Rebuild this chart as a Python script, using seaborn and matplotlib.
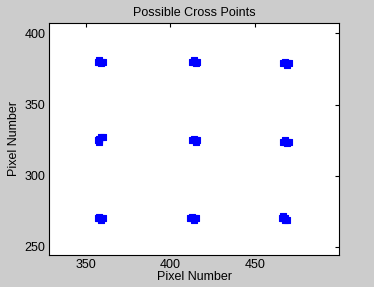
import matplotlib
matplotlib.use("Agg")
import matplotlib.pyplot as plt
import seaborn as sns
import pandas as pd

# Detected cross point coordinates (pixel numbers)
x_vals = [357, 358, 359, 360, 358, 359,
          413, 414, 415, 416, 414, 415,
          467, 468, 469, 470, 468, 469,
          357, 358, 358, 359, 360, 358,
          413, 414, 415, 416, 414, 415,
          467, 468, 469, 470, 468, 469,
          357, 358, 359, 360, 358, 359,
          412, 413, 414, 415, 413, 414,
          466, 467, 468, 469, 467, 468]
y_vals = [380, 380, 380, 380, 381, 379,
          380, 380, 380, 380, 381, 379,
          379, 379, 379, 379, 380, 378,
          325, 325, 324, 327, 327, 326,
          325, 325, 325, 325, 326, 324,
          324, 324, 324, 324, 325, 323,
          270, 270, 270, 270, 271, 269,
          270, 270, 270, 270, 271, 269,
          270, 270, 270, 269, 272, 269]
x_ticks = [350, 400, 450]
y_ticks = [250, 300, 350, 400]
title = "Possible Cross Points"
x_label = "Pixel Number"
y_label = "Pixel Number"

sns.set_style("white")
plt.rcParams['font.family'] = ['Liberation Sans', 'DejaVu Sans']
plt.rcParams['text.color'] = 'black'
plt.rcParams['axes.labelcolor'] = 'black'

df = pd.DataFrame({"x": x_vals, "y": y_vals})
fig = plt.figure(figsize=(3.74, 2.87), dpi=100, facecolor=(0.8, 0.8, 0.8))
ax = fig.add_axes([0.132, 0.111, 0.775, 0.810])
sns.scatterplot(data=df, x="x", y="y", ax=ax, marker="s", s=16,
                color=(0, 0, 1), edgecolor=(0, 0, 1), linewidth=0.8)
ax.set_xlim(328.5, 500)
ax.set_ylim(244.2, 407.5)
ax.set_xticks(x_ticks)
ax.set_yticks(y_ticks)
ax.tick_params(direction="in", length=3, width=0.8, top=True, right=True,
               labelsize=9, colors="black", pad=3)
for s in ax.spines.values():
    s.set_visible(True)
    s.set_color("black")
    s.set_linewidth(0.8)
ax.set_title(title, fontsize=9, pad=5, color="black")
ax.set_xlabel(x_label, fontsize=9, labelpad=0, color="black")
ax.set_ylabel(y_label, fontsize=9, labelpad=3, color="black")
fig.savefig("out.png", dpi=100, facecolor=fig.get_facecolor())
